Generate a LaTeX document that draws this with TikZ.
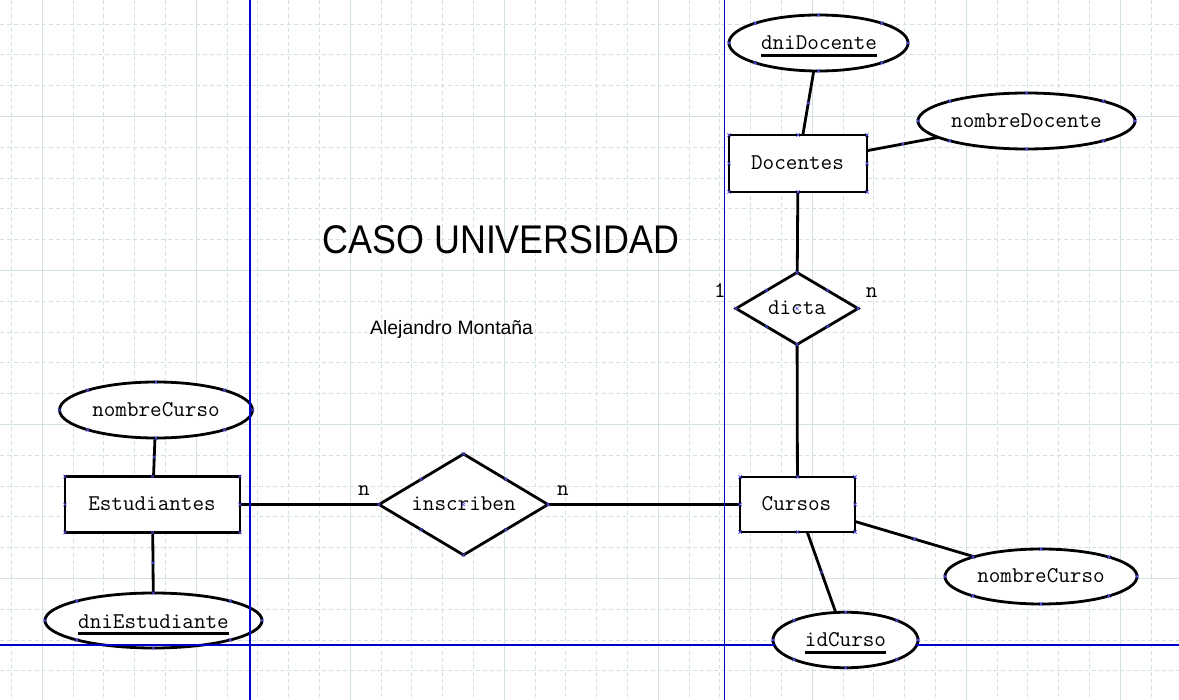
\documentclass[tikz,border=0pt]{standalone}
\usepackage{fontspec}
\usepackage{graphicx}
\newfontfamily\arialf{Liberation Sans}
\usetikzlibrary{shapes.geometric}
\definecolor{gridc}{RGB}{210,226,223}
\definecolor{pageblue}{RGB}{0,0,200}
\definecolor{mkblue}{RGB}{80,80,235}
\newcommand\xmk[1]{\draw[mk] (#1) ++(-1.7,-1.7) -- ++(3.4,3.4) ++(0,-3.4) -- ++(-3.4,3.4);}
\newcommand\shapemarks[1]{\foreach \a in {north,south,east,west,north east,north west,south east,south west}{\xmk{#1.\a}}}
\tikzset{
  shp/.style={draw=black, line width=2.8pt, fill=white, inner sep=0pt, outer sep=0pt},
  ent/.style={shp, rectangle},
  att/.style={shp, ellipse},
  rel/.style={shp, diamond},
  conn/.style={line width=2.8pt, draw=black},
  lbl/.style={font=\fontsize{22.5}{24}\selectfont\ttfamily, inner sep=0pt, outer sep=0pt, text height=13pt, text depth=0pt},
  card/.style={lbl, anchor=base},
  uline/.style={line width=2.3pt, draw=black},
  mk/.style={draw=mkblue, line width=0.7pt},
  gmaj/.style={draw=gridc, line width=1pt},
  gmin/.style={draw=gridc, line width=1pt, dash pattern=on 4pt off 3pt},
  pgline/.style={draw=pageblue, line width=1.2pt},
}
\begin{document}
\begin{tikzpicture}[x=1pt, y=-1pt]
\useasboundingbox (0,0) rectangle (1179,700);
\fill[white] (0,0) rectangle (1179,700);
% grid
\begin{scope}
\clip (0,0) rectangle (1179,700);
\foreach \i in {-1,...,37}{
  \pgfmathsetmacro\gx{42.3+30.8*\i}
  \pgfmathtruncatemacro\gm{mod(\i+10,5)}
  \ifnum\gm=0 \draw[gmaj] (\gx,0) -- (\gx,700); \else \draw[gmin] (\gx,0) -- (\gx,700); \fi
}
\foreach \j in {-3,...,18}{
  \pgfmathsetmacro\gy{116.5+30.8*\j}
  \pgfmathtruncatemacro\gm{mod(\j+10,5)}
  \ifnum\gm=0 \draw[gmaj] (0,\gy) -- (1179,\gy); \else \draw[gmin] (0,\gy) -- (1179,\gy); \fi
}
\end{scope}

% shapes
\node[att, minimum width=179pt, minimum height=56pt] (dnidoc) at (818.5,43) {};
\node[att, minimum width=217pt, minimum height=56pt] (nomdoc) at (1026.5,121) {};
\node[ent, minimum width=138pt, minimum height=57pt] (doc) at (798,163.5) {};
\node[rel, minimum width=122pt, minimum height=72pt] (dicta) at (797,308.5) {};
\node[ent, minimum width=115pt, minimum height=55pt] (cur) at (797.5,504.5) {};
\node[att, minimum width=192pt, minimum height=55pt] (nomcur2) at (1041,576.5) {};
\node[att, minimum width=145pt, minimum height=55.5pt] (idc) at (845.5,640) {};
\node[ent, minimum width=175pt, minimum height=56pt] (est) at (152.5,504.5) {};
\node[att, minimum width=193pt, minimum height=56pt] (nomcur1) at (156,410) {};
\node[att, minimum width=217pt, minimum height=55pt] (dniest) at (153.5,620.5) {};
\node[rel, minimum width=169pt, minimum height=101pt] (ins) at (463.5,504.5) {};

% connectors
\draw[conn] (dnidoc) -- coordinate (m1) (doc);
\draw[conn] (doc) -- coordinate (m2) (nomdoc);
\draw[conn] (doc) -- (dicta);
\draw[conn] (dicta) -- (cur);
\draw[conn] (cur) -- coordinate (m3) (nomcur2);
\draw[conn] (cur) -- coordinate (m4) (idc);
\draw[conn] (nomcur1) -- coordinate (m5) (est);
\draw[conn] (est) -- coordinate (m6) (dniest);
\draw[conn] (est) -- (ins);
\draw[conn] (ins) -- (cur);

% labels
\node[lbl] (t-dnidoc) at (819,43) {dniDocente};
\node[lbl] (t-nomdoc) at (1026.5,121) {nombreDocente};
\node[lbl] (t-doc) at (797.5,163.5) {Docentes};
\node[lbl] (t-dicta) at (797,308.5) {dicta};
\node[lbl] (t-cur) at (796.5,504.5) {Cursos};
\node[lbl] (t-nomcur2) at (1041,576.5) {nombreCurso};
\node[lbl] (t-idc) at (845.5,640) {idCurso};
\node[lbl] (t-est) at (152,504.5) {Estudiantes};
\node[lbl] (t-nomcur1) at (156,410) {nombreCurso};
\node[lbl] (t-dniest) at (153.5,621.5) {dniEstudiante};
\node[lbl] (t-ins) at (463.5,504.5) {inscriben};

\draw[uline] ([yshift=-6pt]t-dnidoc.south west) -- ([yshift=-6pt]t-dnidoc.south east);
\draw[uline] ([yshift=-6pt]t-idc.south west) -- ([yshift=-6pt]t-idc.south east);
\draw[uline] ([yshift=-5.5pt]t-dniest.south west) -- ([yshift=-5.5pt]t-dniest.south east);

% cardinalities
\node[card] (c1) at (720,298) {1};
\node[card] (c2) at (871.7,298) {n};
\node[card] (c3) at (364,496) {n};
\node[card] (c4) at (563,496) {n};

% title
\node[anchor=base, inner sep=0pt, font=\arialf\fontsize{40}{44}\selectfont] (title) at (501,254) {\scalebox{0.896}[1]{CASO UNIVERSIDAD}};
\node[anchor=base west, inner sep=0pt, font=\arialf\fontsize{19.4}{22}\selectfont] (author) at (370,335) {Alejandro Montaña};

% selection markers
\foreach \s in {dnidoc,nomdoc,doc,dicta,cur,nomcur2,idc,est,nomcur1,dniest,ins}{\shapemarks{\s}}
\xmk{dicta.center}
\xmk{ins.center}
\foreach \m in {m1,m2,m3,m4,m5,m6}{\xmk{\m}}

% page boundary lines
\draw[pgline] (250,0) -- (250,700);
\draw[pgline] (724.3,0) -- (724.3,700);
\draw[pgline] (0,645) -- (774.8,645);
\draw[pgline] (916.2,645) -- (1179,645);
\end{tikzpicture}
\end{document}
